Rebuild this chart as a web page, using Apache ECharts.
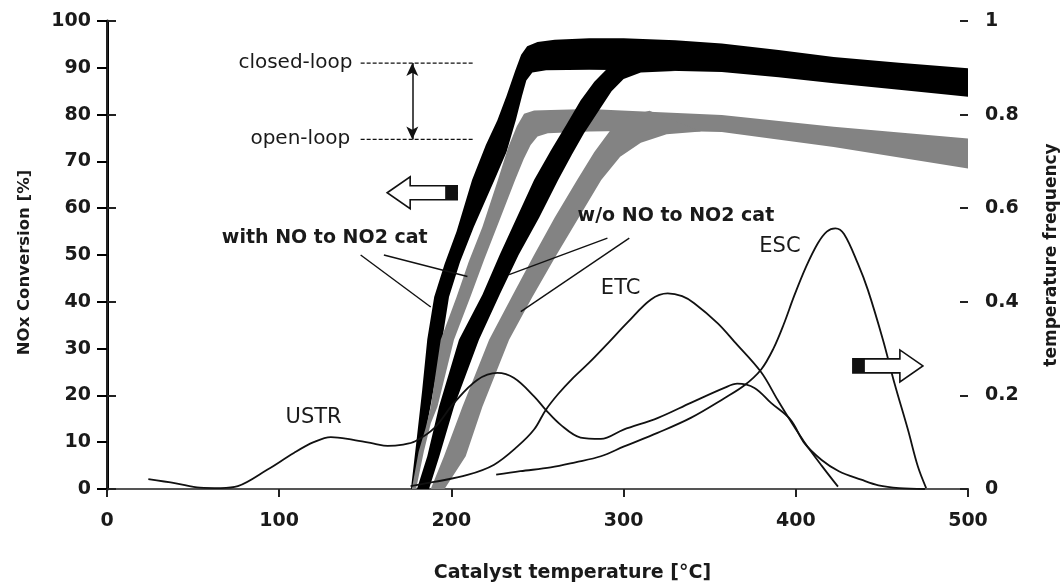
<!DOCTYPE html>
<html>
<head>
<meta charset="utf-8">
<script src="https://cdn.jsdelivr.net/npm/echarts@6/dist/echarts.min.js"></script>
<style>
  html, body { margin: 0; padding: 0; background: #fff; }
  #chart { width: 1062px; height: 584px; }
</style>
</head>
<body>
<div id="chart"></div>
<script>
  // x ticks / y ticks
  const xTicks = [0, 100, 200, 300, 400, 500]
  const freqTicks = [0, 0.2, 0.4, 0.6, 0.8, 1]

  // NOx conversion bands [temp, %], left/top edge and right/bottom edge
  const withCatClosedOuter = [[176.5,0],[179.8,10.5],[183,21],[186,32],[190,41],[196,48],[203,55],[212,66],[220,73.5],[226.7,78.8],[232,84],[237,89.3],[240.5,92.8],[244,94.6],[250,95.5],[260,96],[280,96.3],[300,96.3],[330,95.9],[357,95.2],[390,93.8],[422,92.3],[460,91.1],[500,89.9]]
  const withCatClosedInner = [[178.5,0],[184,10],[189,20],[193,28],[198.6,41],[205,48.5],[213,56],[225,66],[232,72],[237.4,78.8],[241,84],[243.5,87.3],[247,89],[255,89.5],[280,89.6],[320,89.4],[357,89.1],[390,88],[422,86.7],[460,85.3],[500,83.8]]
  const woCatClosedOuter = [[180,0],[186,7],[192.8,17.6],[204.4,31.9],[218,41.5],[228,50],[238,58],[248,66],[258,72.5],[267,78],[275,83],[283,87],[291,90],[300,92]]
  const woCatClosedInner = [[187,0],[193,7],[201.5,17.6],[216,31.9],[228,41.5],[239,50],[251,58],[262,66],[270,71.5],[277,76],[285,80.5],[293,85],[300,87.6],[310,89],[330,89.3]]
  const withCatOpenOuter = [[177,0],[181,8],[185,13],[188,17.6],[193.8,31.9],[203,41],[210,48.5],[218,56],[227,66],[233,73],[238,77.5],[242.2,80.2],[248,80.9],[257.7,81],[280,81.2],[302,80.8],[357,79.9],[422,77.4],[500,74.9]]
  const withCatOpenInner = [[179.5,0],[184,8],[188,14],[191.9,17.6],[201.5,31.9],[211,41],[219,49],[228,57.5],[237,66],[242,70.5],[246,73.5],[250,75.3],[256,76],[280,76.4],[320,76.6],[357,76.3],[422,73.1],[500,68.5]]
  const woCatOpenOuter = [[188,0],[195.7,7],[206.4,17.6],[221.9,31.9],[235,41],[248,50],[260,58],[273,66],[283,72],[292,76.5],[302,79.5],[315,80.8]]
  const woCatOpenInner = [[196,0],[208.3,7],[218,17.6],[233.5,31.9],[247,41],[261,50],[274,58],[287,66],[298,71],[310,74],[325,75.8],[345,76.4]]

  // temperature frequency curves [temp, freq]
  const ustr = [[24,0.021],[40,0.012],[54,0.003],[66,0.002],[76,0.006],[93,0.041],[108.5,0.077],[120,0.1],[130,0.111],[143,0.105],[155,0.097],[163,0.092],[172,0.095],[179,0.102],[190,0.13],[201.5,0.184],[215,0.233],[226.7,0.248],[236.4,0.237],[248,0.198],[254.8,0.169],[263.5,0.137],[275,0.11],[286.8,0.107],[300,0.127],[320,0.152],[339,0.184],[358.5,0.216],[366,0.225],[376,0.216],[385.6,0.184],[397,0.148],[405,0.098],[415,0.062],[425,0.038],[438,0.02],[448,0.008],[460,0.002],[475,0]]
  const etc = [[176.3,0.006],[190,0.015],[209.3,0.03],[224.8,0.052],[238.4,0.091],[248,0.127],[254.8,0.169],[262,0.203],[270,0.235],[280,0.27],[290,0.308],[302.3,0.356],[315.9,0.405],[325.6,0.418],[334,0.412],[341,0.397],[354.7,0.354],[364.3,0.315],[379.8,0.25],[389.5,0.19],[397,0.145],[405,0.1],[415,0.05],[424.5,0.005]]
  const esc = [[226,0.0305],[240,0.038],[257.7,0.046],[272,0.057],[286.8,0.07],[300.3,0.091],[319.7,0.12],[339,0.152],[358.5,0.194],[370,0.221],[380,0.256],[387,0.3],[393,0.352],[399,0.412],[406,0.475],[412.8,0.525],[418,0.55],[423,0.557],[428,0.545],[436,0.482],[441.9,0.425],[450.6,0.319],[457.3,0.226],[465.1,0.127],[470.9,0.048],[475.7,0.002]]

  // annotation texts, anchored in data coords (temp, %)
  const labels = [
    { text: 'closed-loop', at: [76.3, 91], align: 'left', bold: false, size: 20 },
    { text: 'open-loop', at: [83.3, 74.8], align: 'left', bold: false, size: 20 },
    { text: 'with NO to NO2 cat', at: [186.2, 53.7], align: 'right', bold: true, size: 19 },
    { text: 'w/o NO to NO2 cat', at: [273.3, 58.3], align: 'left', bold: true, size: 19 },
    { text: 'ETC', at: [286.8, 42.8], align: 'left', bold: false, size: 21 },
    { text: 'ESC', at: [378.8, 51.9], align: 'left', bold: false, size: 21 },
    { text: 'USTR', at: [103.7, 15.2], align: 'left', bold: false, size: 21 }
  ]
  const pointers = [
    [[147.3, 50], [188, 38.9]],
    [[160.8, 50], [209.3, 45.4]],
    [[290.6, 53.6], [233.5, 45.8]],
    [[303.3, 53.6], [240.3, 37.9]]
  ]
  const closedLevel = [[147.3, 91], [213, 91]]
  const openLevel = [[147.3, 74.7], [213, 74.7]]
  const gapArrow = [[177.3, 91], [177.3, 74.7]]
  const leftArrowTip = [162.7, 63.3]
  const rightArrowTip = [473.8, 26.3]

  const FONT = 'DejaVu Sans'
  const chart = echarts.init(document.getElementById('chart'))

  function band(outer, inner, color, z) {
    return {
      type: 'custom', xAxisIndex: 0, yAxisIndex: 0, silent: true, z: z,
      data: [0],
      renderItem: (params, api) => {
        const pts = outer.concat(inner.slice().reverse()).map(p => api.coord(p))
        return { type: 'polygon', shape: { points: pts }, style: { fill: color } }
      }
    }
  }

  function thin(data) {
    return {
      type: 'line', xAxisIndex: 0, yAxisIndex: 1, data: data, smooth: 0.35,
      showSymbol: false, silent: true, z: 5,
      lineStyle: { color: '#111', width: 1.8 }
    }
  }

  function hollowArrow(tip, dir) {
    // dir -1 = points left, 1 = points right
    return {
      type: 'custom', xAxisIndex: 0, yAxisIndex: 0, silent: true, z: 8,
      data: [0],
      renderItem: (params, api) => {
        const p = api.coord(tip)
        const len = 70, head = 23, hh = 16, sh = 7, blk = 12
        const s = -dir
        const pts = [
          [p[0], p[1]],
          [p[0] + s * head, p[1] - hh],
          [p[0] + s * head, p[1] - sh],
          [p[0] + s * len, p[1] - sh],
          [p[0] + s * len, p[1] + sh],
          [p[0] + s * head, p[1] + sh],
          [p[0] + s * head, p[1] + hh]
        ]
        const bx = s > 0 ? p[0] + len - blk : p[0] - len
        return {
          type: 'group',
          children: [
            { type: 'polygon', shape: { points: pts }, style: { fill: '#fff', stroke: '#111', lineWidth: 1.6 } },
            { type: 'rect', shape: { x: bx, y: p[1] - sh, width: blk, height: sh * 2 }, style: { fill: '#111' } }
          ]
        }
      }
    }
  }

  const series = [
    band(withCatClosedOuter, withCatClosedInner, '#000', 2),
    band(withCatOpenOuter, withCatOpenInner, '#838383', 3),
    band(woCatOpenOuter, woCatOpenInner, '#838383', 3),
    band(woCatClosedOuter, woCatClosedInner, '#000', 4),
    thin(ustr),
    thin(etc),
    thin(esc)
  ]

  pointers.forEach(seg => {
    series.push({
      type: 'line', xAxisIndex: 0, yAxisIndex: 0, data: seg, showSymbol: false, silent: true, z: 6,
      lineStyle: { color: '#111', width: 1.4 }
    })
  })
  ;[closedLevel, openLevel].forEach(seg => {
    series.push({
      type: 'line', xAxisIndex: 0, yAxisIndex: 0, data: seg, showSymbol: false, silent: true, z: 6,
      lineStyle: { color: '#111', width: 1.2, type: [4, 2] }
    })
  })
  series.push({
    type: 'line', xAxisIndex: 0, yAxisIndex: 0, data: [], silent: true,
    markLine: {
      silent: true, symbol: ['arrow', 'arrow'], symbolSize: [9, 13], label: { show: false },
      lineStyle: { color: '#111', width: 1.5, type: 'solid' },
      data: [[{ coord: gapArrow[0] }, { coord: gapArrow[1] }]]
    }
  })
  series.push(hollowArrow(leftArrowTip, -1))
  series.push(hollowArrow(rightArrowTip, 1))
  series.push({
    type: 'custom', xAxisIndex: 0, yAxisIndex: 0, silent: true, z: 9,
    data: labels.map((l, i) => i),
    renderItem: (params, api) => {
      const l = labels[params.dataIndex]
      const p = api.coord(l.at)
      return {
        type: 'text', x: p[0], y: p[1],
        style: {
          text: l.text, fill: '#1a1a1a', fontFamily: FONT, fontSize: l.size,
          fontWeight: l.bold ? 'bold' : 'normal', align: l.align, verticalAlign: 'middle'
        }
      }
    }
  })

  const labelStyle = { color: '#1a1a1a', fontFamily: FONT, fontSize: 19, fontWeight: 'bold' }
  const nameStyle = { color: '#1a1a1a', fontFamily: FONT, fontWeight: 'bold' }

  chart.setOption({
    animation: false,
    backgroundColor: '#fff',
    grid: { left: 107, right: 94, top: 21, bottom: 95, containLabel: false, outerBoundsMode: 'none' },
    xAxis: [{
      type: 'value', min: 0, max: 500, interval: 100, position: 'bottom',
      name: 'Catalyst temperature [°C]', nameLocation: 'middle', nameGap: 75,
      nameTextStyle: Object.assign({ fontSize: 19, padding: [0, 0, 0, 70] }, nameStyle),
      axisLine: { lineStyle: { color: '#222', width: 2 } },
      axisTick: { inside: false, length: 8, lineStyle: { color: '#222', width: 2 } },
      axisLabel: Object.assign({ margin: 23, formatter: v => xTicks.includes(v) ? String(v) : '' }, labelStyle),
      splitLine: { show: false }
    }, {
      type: 'value', min: 0, max: 500, position: 'top',
      axisLine: { lineStyle: { color: '#555', width: 2 } },
      axisTick: { show: false }, axisLabel: { show: false }, splitLine: { show: false }
    }],
    yAxis: [{
      type: 'value', min: 0, max: 100, interval: 10, position: 'left',
      name: 'NOx Conversion [%]', nameLocation: 'middle', nameGap: 74, nameRotate: 90,
      nameTextStyle: Object.assign({ fontSize: 16.5, padding: [0, 15, 0, 0] }, nameStyle),
      axisLine: { show: true, lineStyle: { color: '#000', width: 3 } },
      axisTick: { length: 10, lineStyle: { color: '#000', width: 2 } },
      axisLabel: Object.assign({ margin: 16 }, labelStyle),
      splitLine: { show: false }
    }, {
      type: 'value', min: 0, max: 1, interval: 0.2, position: 'right',
      name: 'temperature frequency', nameLocation: 'middle', nameGap: 75, nameRotate: 90,
      nameTextStyle: Object.assign({ fontSize: 17 }, nameStyle),
      axisLine: { show: true, lineStyle: { color: '#222', width: 2 } },
      axisTick: { length: 9, lineStyle: { color: '#222', width: 2 } },
      axisLabel: Object.assign({ margin: 17, formatter: v => freqTicks.some(t => Math.abs(t - v) < 1e-6) ? String(+v.toFixed(1)) : '' }, labelStyle),
      splitLine: { show: false }
    }, {
      type: 'value', min: 0, max: 1, interval: 0.2, position: 'right',
      axisLine: { show: false },
      axisTick: { inside: true, length: 8, lineStyle: { color: '#222', width: 2 } },
      axisLabel: { show: false }, splitLine: { show: false }
    }],
    series: series
  })
</script>
</body>
</html>
